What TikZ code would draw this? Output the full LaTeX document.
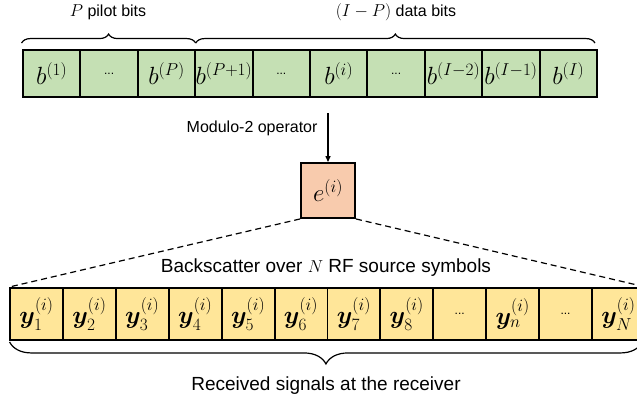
\documentclass[tikz,border=0pt]{standalone}
\usepackage{amsmath}
\usepackage{bm}
\usepackage{fontspec}
\setmainfont{Liberation Sans}
\usetikzlibrary{positioning, calc, arrows.meta, decorations.pathreplacing}

\definecolor{bitgreen}{HTML}{C5E0B4}
\definecolor{sigyellow}{HTML}{FFE699}
\definecolor{oppeach}{HTML}{F8CBAD}

\begin{document}
\begin{tikzpicture}[
    x=1pt, y=-1pt,
    bitcell/.style={rectangle, draw=black, line width=1.9pt, minimum width=57.4pt, minimum height=47pt, inner sep=0pt, fill=bitgreen, font=\fontsize{24}{26}\selectfont},
    sigcell/.style={rectangle, draw=black, line width=1.9pt, minimum width=52.9pt, minimum height=52pt, inner sep=0pt, fill=sigyellow, font=\fontsize{24}{26}\selectfont},
    dots/.style={font=\fontsize{12}{14}\selectfont},
    opbox/.style={rectangle, draw=black, line width=1.9pt, minimum width=54pt, minimum height=55pt, inner sep=0pt, fill=oppeach, font=\fontsize{27}{29}\selectfont},
    arrow/.style={-{Triangle[length=6pt, width=5pt]}, line width=1.3pt},
    brace/.style={decorate, decoration={brace, amplitude=9pt}, line width=1.2pt},
    txt/.style={font=\fontsize{16}{18}\selectfont},
    bigtxt/.style={font=\fontsize{19}{21}\selectfont}
]
    \useasboundingbox (0,0) rectangle (637,405);
    \clip (0,0) rectangle (637,405);

    % Transmitted bits
    \node[bitcell] (b1) at (51.7, 73.5) {$b^{(1)}$};
    \node[bitcell, dots] (b2) at (109.1, 73.5) {...};
    \node[bitcell] (b3) at (166.5, 73.5) {$b^{(P)}$};
    \node[bitcell] (b4) at (223.9, 73.5) {$b^{(P+1)}$};
    \node[bitcell, dots] (b5) at (281.3, 73.5) {...};
    \node[bitcell] (b6) at (338.7, 73.5) {$b^{(i)}$};
    \node[bitcell, dots] (b7) at (396.1, 73.5) {...};
    \node[bitcell] (b8) at (453.5, 73.5) {$b^{(I-2)}$};
    \node[bitcell] (b9) at (510.9, 73.5) {$b^{(I-1)}$};
    \node[bitcell] (b10) at (568.3, 73.5) {$b^{(I)}$};

    % Braces over the bits
    \draw[brace] ([xshift=-0.5pt, yshift=6pt]b1.north west) -- ([xshift=-0.5pt, yshift=6pt]b3.north east);
    \draw[brace] ([xshift=1.5pt, yshift=6pt]b4.north west) -- ([xshift=-3pt, yshift=6pt]b10.north east);
    \node[txt] (pilot) at (108, 12) {$P$ pilot bits};
    \node[txt] (data) at (396, 12) {$(I-P)$ data bits};

    % Modulo-2 operator
    \coordinate (mod) at (328, 113);
    \node[opbox] (e) at (328, 190.5) {$e^{(i)}$};
    \draw[arrow] (mod) -- (e);
    \node[txt, anchor=east] (modlbl) at (321, 128) {Modulo-2 operator};

    % Received signals
    \node[sigcell] (s1) at (36.5, 314) {$\bm{y}_1^{(i)}$};
    \node[sigcell] (s2) at (89.4, 314) {$\bm{y}_2^{(i)}$};
    \node[sigcell] (s3) at (142.3, 314) {$\bm{y}_3^{(i)}$};
    \node[sigcell] (s4) at (195.2, 314) {$\bm{y}_4^{(i)}$};
    \node[sigcell] (s5) at (248.1, 314) {$\bm{y}_5^{(i)}$};
    \node[sigcell] (s6) at (301.0, 314) {$\bm{y}_6^{(i)}$};
    \node[sigcell] (s7) at (353.9, 314) {$\bm{y}_7^{(i)}$};
    \node[sigcell] (s8) at (406.8, 314) {$\bm{y}_8^{(i)}$};
    \node[sigcell, dots] (s9) at (459.7, 314) {...};
    \node[sigcell] (s10) at (512.6, 314) {$\bm{y}_n^{(i)}$};
    \node[sigcell, dots] (s11) at (565.5, 314) {...};
    \node[sigcell] (s12) at (618.4, 314) {$\bm{y}_N^{(i)}$};

    % Spread of e over the symbols
    \draw[dashed, dash pattern=on 6pt off 4pt, line width=1.2pt] (e.south west) -- (s1.north west);
    \draw[dashed, dash pattern=on 6pt off 4pt, line width=1.2pt] (e.south east) -- (s12.north east);
    \node[bigtxt] (backsc) at (326, 268) {Backscatter over $N$ RF source symbols};

    % Brace under the symbols
    \draw[brace, decoration={amplitude=22pt}] ([xshift=-3.5pt, yshift=-1pt]s12.south east) -- ([xshift=0.5pt, yshift=-1pt]s1.south west);
    \node[bigtxt] (recv) at (326, 386) {Received signals at the receiver};

\end{tikzpicture}
\end{document}
